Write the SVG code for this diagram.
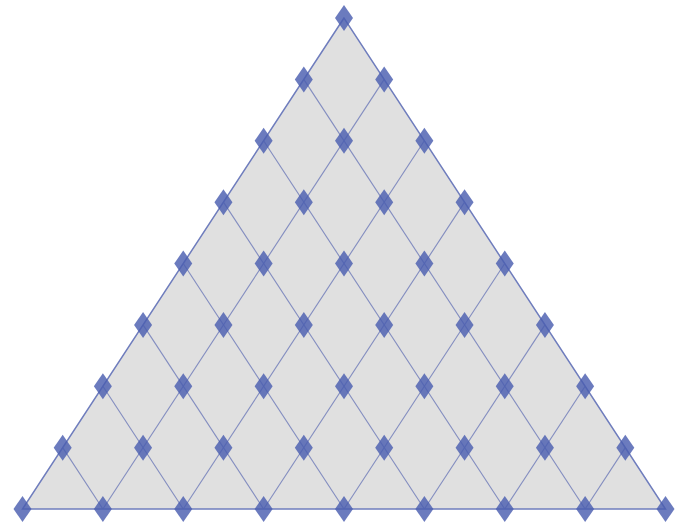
<svg xmlns="http://www.w3.org/2000/svg" xmlns:xlink="http://www.w3.org/1999/xlink" width="680" height="527" viewBox="0 0 680 527">
<style>
.tri{fill:#e0e0e0;stroke:#6f7dbd;stroke-width:1.5}
.ln{stroke:#7883bb;stroke-width:1.1;fill:none;opacity:0.9}
.dm{fill:#4a5eb0;fill-opacity:0.82}
</style>
<defs>
<path id="d" class="dm" d="M0,-13 L9,0 L0,13 L-9,0 Z"/>
</defs>
<rect width="680" height="527" fill="#ffffff"/>
<polygon class="tri" points="344,18 22.5,509 665.5,509"/>
<g id="connectors">
<line class="ln" x1="102.88" y1="509" x2="384.19" y2="79.38"/>
<line class="ln" x1="183.25" y1="509" x2="424.38" y2="140.75"/>
<line class="ln" x1="263.63" y1="509" x2="464.56" y2="202.13"/>
<line class="ln" x1="344" y1="509" x2="504.75" y2="263.5"/>
<line class="ln" x1="424.38" y1="509" x2="544.94" y2="324.88"/>
<line class="ln" x1="504.75" y1="509" x2="585.13" y2="386.25"/>
<line class="ln" x1="585.13" y1="509" x2="625.31" y2="447.63"/>
<line class="ln" x1="102.88" y1="509" x2="62.69" y2="447.63"/>
<line class="ln" x1="183.25" y1="509" x2="102.88" y2="386.25"/>
<line class="ln" x1="263.63" y1="509" x2="143.06" y2="324.88"/>
<line class="ln" x1="344" y1="509" x2="183.25" y2="263.5"/>
<line class="ln" x1="424.38" y1="509" x2="223.44" y2="202.13"/>
<line class="ln" x1="504.75" y1="509" x2="263.63" y2="140.75"/>
<line class="ln" x1="585.13" y1="509" x2="303.81" y2="79.38"/>
</g>
<g id="n0-0"><use href="#d" x="344" y="18"/></g>
<g id="n1-0"><use href="#d" x="303.81" y="79.38"/></g>
<g id="n1-1"><use href="#d" x="384.19" y="79.38"/></g>
<g id="n2-0"><use href="#d" x="263.63" y="140.75"/></g>
<g id="n2-1"><use href="#d" x="344" y="140.75"/></g>
<g id="n2-2"><use href="#d" x="424.38" y="140.75"/></g>
<g id="n3-0"><use href="#d" x="223.44" y="202.13"/></g>
<g id="n3-1"><use href="#d" x="303.81" y="202.13"/></g>
<g id="n3-2"><use href="#d" x="384.19" y="202.13"/></g>
<g id="n3-3"><use href="#d" x="464.56" y="202.13"/></g>
<g id="n4-0"><use href="#d" x="183.25" y="263.5"/></g>
<g id="n4-1"><use href="#d" x="263.63" y="263.5"/></g>
<g id="n4-2"><use href="#d" x="344" y="263.5"/></g>
<g id="n4-3"><use href="#d" x="424.38" y="263.5"/></g>
<g id="n4-4"><use href="#d" x="504.75" y="263.5"/></g>
<g id="n5-0"><use href="#d" x="143.06" y="324.88"/></g>
<g id="n5-1"><use href="#d" x="223.44" y="324.88"/></g>
<g id="n5-2"><use href="#d" x="303.81" y="324.88"/></g>
<g id="n5-3"><use href="#d" x="384.19" y="324.88"/></g>
<g id="n5-4"><use href="#d" x="464.56" y="324.88"/></g>
<g id="n5-5"><use href="#d" x="544.94" y="324.88"/></g>
<g id="n6-0"><use href="#d" x="102.88" y="386.25"/></g>
<g id="n6-1"><use href="#d" x="183.25" y="386.25"/></g>
<g id="n6-2"><use href="#d" x="263.63" y="386.25"/></g>
<g id="n6-3"><use href="#d" x="344" y="386.25"/></g>
<g id="n6-4"><use href="#d" x="424.38" y="386.25"/></g>
<g id="n6-5"><use href="#d" x="504.75" y="386.25"/></g>
<g id="n6-6"><use href="#d" x="585.13" y="386.25"/></g>
<g id="n7-0"><use href="#d" x="62.69" y="447.63"/></g>
<g id="n7-1"><use href="#d" x="143.06" y="447.63"/></g>
<g id="n7-2"><use href="#d" x="223.44" y="447.63"/></g>
<g id="n7-3"><use href="#d" x="303.81" y="447.63"/></g>
<g id="n7-4"><use href="#d" x="384.19" y="447.63"/></g>
<g id="n7-5"><use href="#d" x="464.56" y="447.63"/></g>
<g id="n7-6"><use href="#d" x="544.94" y="447.63"/></g>
<g id="n7-7"><use href="#d" x="625.31" y="447.63"/></g>
<g id="n8-0"><use href="#d" x="22.5" y="509"/></g>
<g id="n8-1"><use href="#d" x="102.88" y="509"/></g>
<g id="n8-2"><use href="#d" x="183.25" y="509"/></g>
<g id="n8-3"><use href="#d" x="263.63" y="509"/></g>
<g id="n8-4"><use href="#d" x="344" y="509"/></g>
<g id="n8-5"><use href="#d" x="424.38" y="509"/></g>
<g id="n8-6"><use href="#d" x="504.75" y="509"/></g>
<g id="n8-7"><use href="#d" x="585.13" y="509"/></g>
<g id="n8-8"><use href="#d" x="665.5" y="509"/></g>
</svg>
